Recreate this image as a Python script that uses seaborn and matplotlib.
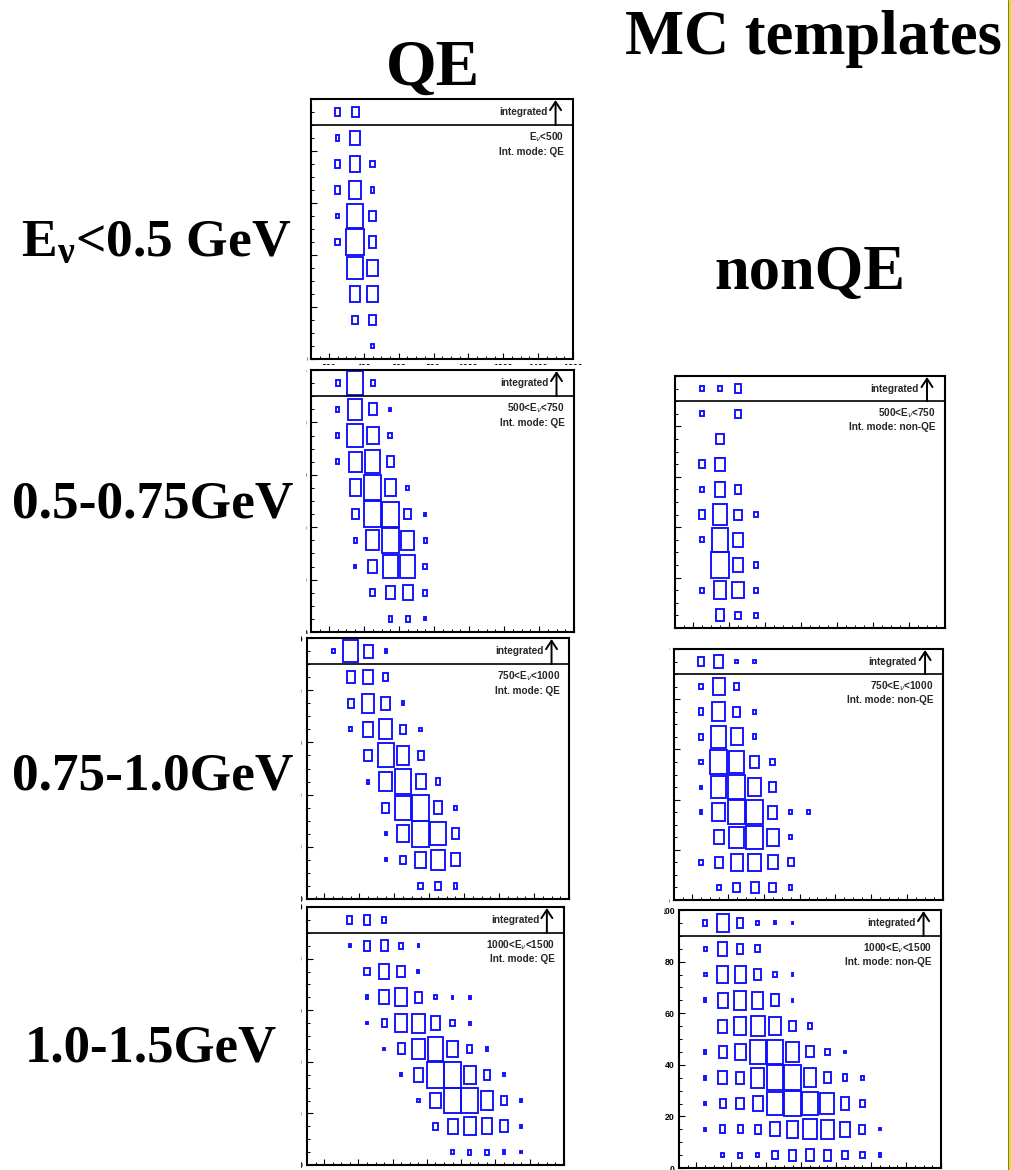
import matplotlib
matplotlib.use("Agg")
import matplotlib.pyplot as plt
import seaborn as sns
import pandas as pd
from matplotlib.patches import Rectangle
from matplotlib.lines import Line2D
from matplotlib.transforms import Bbox, TransformedBbox

# ---------------------------------------------------------------- data
# Muon momentum bins (MeV) and angle bins (deg); the strip 90-100 holds the
# angle-integrated row.
MOM_LO, MOM_HI, MOM_BIN = 100, 1600, 100
ANG_BIN = 10
ANGLE_ROWS = [85, 75, 65, 55, 45, 35, 25, 15, 5]
INTEGRATED_ROW = 95

# relative cell content (box side / cell side), one list per angle row,
# starting at the first momentum bin
qe_lt500_integrated = [0, 0.30, 0.40, 0]
qe_lt500 = [
    [0, 0.20, 0.55, 0],
    [0, 0.30, 0.62, 0.25],
    [0, 0.30, 0.66, 0.22],
    [0, 0.18, 0.92, 0.42],
    [0, 0.25, 1.00, 0.45],
    [0, 0, 0.88, 0.60],
    [0, 0, 0.60, 0.62],
    [0, 0, 0.34, 0.40],
    [0, 0, 0, 0.18],
]

qe_500_750_integrated = [0, 0.25, 0.93, 0.25]
qe_500_750 = [
    [0, 0.18, 0.80, 0.45, 0.10],
    [0, 0.18, 0.90, 0.68, 0.22],
    [0, 0.18, 0.76, 0.88, 0.42],
    [0, 0, 0.65, 0.95, 0.65, 0.15],
    [0, 0, 0.38, 1.00, 0.95, 0.38, 0.12],
    [0, 0, 0.18, 0.76, 0.95, 0.72, 0.20],
    [0, 0, 0.14, 0.50, 0.88, 0.84, 0.22],
    [0, 0, 0, 0.27, 0.50, 0.57, 0.22],
    [0, 0, 0, 0, 0.20, 0.25, 0.12],
]

qe_750_1000_integrated = [0, 0.18, 0.85, 0.50, 0.12]
qe_750_1000 = [
    [0, 0, 0.46, 0.54, 0.30],
    [0, 0, 0.34, 0.72, 0.50, 0.15],
    [0, 0, 0.15, 0.60, 0.76, 0.34, 0.14],
    [0, 0, 0, 0.42, 0.92, 0.72, 0.34],
    [0, 0, 0, 0.15, 0.72, 0.95, 0.57, 0.25],
    [0, 0, 0, 0, 0.38, 0.92, 1.00, 0.50, 0.15],
    [0, 0, 0, 0, 0.12, 0.65, 0.98, 0.88, 0.42],
    [0, 0, 0, 0, 0.12, 0.30, 0.60, 0.76, 0.50],
    [0, 0, 0, 0, 0, 0, 0.26, 0.30, 0.22],
]

qe_1000_1500_integrated = [0, 0, 0.30, 0.38, 0.22]
qe_1000_1500 = [
    [0, 0, 0.12, 0.38, 0.42, 0.22, 0.10],
    [0, 0, 0, 0.30, 0.58, 0.46, 0.12],
    [0, 0, 0, 0.15, 0.54, 0.70, 0.42, 0.16, 0.10, 0.12],
    [0, 0, 0, 0.10, 0.30, 0.70, 0.74, 0.54, 0.26, 0.12],
    [0, 0, 0, 0, 0.10, 0.42, 0.78, 0.90, 0.62, 0.30, 0.16],
    [0, 0, 0, 0, 0, 0.12, 0.54, 1.00, 1.00, 0.70, 0.38, 0.12],
    [0, 0, 0, 0, 0, 0, 0.14, 0.62, 0.97, 0.97, 0.74, 0.38, 0.12],
    [0, 0, 0, 0, 0, 0, 0, 0.26, 0.58, 0.70, 0.62, 0.46, 0.12],
    [0, 0, 0, 0, 0, 0, 0, 0, 0.18, 0.20, 0.20, 0.16, 0.08],
]

nonqe_500_750_integrated = [0, 0.22, 0.22, 0.33]
nonqe_500_750 = [
    [0, 0.20, 0, 0.33],
    [0, 0, 0.40],
    [0, 0.30, 0.52],
    [0, 0.20, 0.60, 0.37],
    [0, 0.37, 0.82, 0.40, 0.20],
    [0, 0.20, 0.93, 0.56],
    [0, 0, 1.00, 0.52, 0.20],
    [0, 0.20, 0.70, 0.63, 0.20],
    [0, 0, 0.48, 0.30, 0.20],
]

nonqe_750_1000_integrated = [0, 0.37, 0.52, 0.15, 0.14]
nonqe_750_1000 = [
    [0, 0.18, 0.67, 0.30],
    [0, 0.26, 0.74, 0.40, 0.14],
    [0, 0.26, 0.85, 0.67, 0.20],
    [0, 0.18, 0.93, 0.85, 0.48, 0.26],
    [0, 0.12, 0.85, 0.97, 0.70, 0.37],
    [0, 0.14, 0.74, 0.97, 0.97, 0.52, 0.15, 0.15],
    [0, 0, 0.56, 0.82, 0.93, 0.67, 0.14],
    [0, 0.18, 0.45, 0.67, 0.70, 0.56, 0.33],
    [0, 0, 0.20, 0.37, 0.45, 0.37, 0.20],
]

nonqe_1000_1500_integrated = [0, 0.22, 0.68, 0.38, 0.15, 0.12, 0.10]
nonqe_1000_1500 = [
    [0, 0.15, 0.53, 0.38, 0.26],
    [0, 0.15, 0.64, 0.64, 0.42, 0.22, 0.10],
    [0, 0.14, 0.57, 0.72, 0.64, 0.46, 0.10],
    [0, 0, 0.50, 0.72, 0.80, 0.68, 0.38, 0.22],
    [0, 0.14, 0.46, 0.64, 0.92, 0.92, 0.76, 0.42, 0.26, 0.10],
    [0, 0.14, 0.50, 0.46, 0.76, 0.95, 0.95, 0.72, 0.42, 0.26, 0.14],
    [0, 0.12, 0.34, 0.42, 0.57, 0.88, 1.00, 0.92, 0.80, 0.50, 0.26],
    [0, 0.10, 0.30, 0.30, 0.34, 0.53, 0.68, 0.76, 0.72, 0.60, 0.34, 0.08],
    [0, 0, 0.18, 0.20, 0.16, 0.34, 0.42, 0.46, 0.42, 0.34, 0.26, 0.15],
]

energy_labels = ["E$_{\\nu}$<500", "500<E$_{\\nu}$<750",
                 "750<E$_{\\nu}$<1000", "1000<E$_{\\nu}$<1500"]
row_titles = ["E$_{\\mathrm{ν}}$<0.5 GeV", "0.5-0.75GeV", "0.75-1.0GeV", "1.0-1.5GeV"]

# ---------------------------------------------------------------- style
sns.set_theme(style="ticks")
plt.rcParams["font.family"] = ["Liberation Sans", "DejaVu Sans"]
plt.rcParams["mathtext.fontset"] = "custom"
plt.rcParams["mathtext.rm"] = "Liberation Serif:bold"
plt.rcParams["mathtext.it"] = "Liberation Serif:italic:bold"
plt.rcParams["mathtext.bf"] = "Liberation Serif:bold"

W, H = 1012, 1170
fig = plt.figure(figsize=(W / 100, H / 100), dpi=100)
fig.patch.set_facecolor("white")
BOX_BLUE = "#0d0dff"


def fig_box(l, t, r, b):
    return [l / W, 1 - b / H, (r - l) / W, (b - t) / H]


def cells_frame(rows, integrated):
    recs = []
    for yc, row in zip(ANGLE_ROWS, rows):
        for i, v in enumerate(row):
            if v > 0:
                recs.append((MOM_LO + (i + 0.5) * MOM_BIN, yc, v))
    for i, v in enumerate(integrated):
        if v > 0:
            recs.append((MOM_LO + (i + 0.5) * MOM_BIN, INTEGRATED_ROW, v))
    return pd.DataFrame(recs, columns=["momentum", "angle", "content"])


def panel(axes_px, card_px, z, rows, integrated, elabel, mode):
    card = fig_box(*card_px)
    fig.add_artist(Rectangle((card[0], card[1]), card[2], card[3],
                             transform=fig.transFigure, facecolor="white",
                             edgecolor="none", zorder=z))
    ax = fig.add_axes(fig_box(*axes_px))
    ax.set_zorder(z + 0.5)
    ax.set_facecolor("white")
    ax.set_xlim(MOM_LO, MOM_HI)
    ax.set_ylim(0, 100)
    ax.set_xticks(range(200, MOM_HI + 1, 200))
    ax.set_xticks(range(MOM_LO, MOM_HI + 1, 50), minor=True)
    ax.set_yticks(range(0, 101, 20))
    ax.set_yticks(range(0, 101, 5), minor=True)
    ax.tick_params(which="both", direction="in", top=False, right=False,
                   labelsize=6.3, pad=3, colors="black")
    ax.tick_params(which="major", length=4, width=0.8)
    ax.tick_params(which="minor", length=2.2, width=0.7)
    for s in ax.spines.values():
        s.set_linewidth(1.5)
        s.set_color("black")
    clip = TransformedBbox(Bbox.from_bounds(*card), fig.transFigure)
    for lab in ax.get_xticklabels() + ax.get_yticklabels():
        lab.set_fontweight("bold")
        lab.set_clip_box(clip)
        lab.set_clip_on(True)

    ax.axhline(90, color="black", lw=1.2)
    df = cells_frame(rows, integrated)
    for x, y, v in df.itertuples(index=False):
        w, h = v * MOM_BIN, v * ANG_BIN
        ax.add_patch(Rectangle((x - w / 2, y - h / 2), w, h, fill=False,
                               edgecolor=BOX_BLUE, lw=1.35))

    ax.text(1455, 95, "integrated", ha="right", va="center",
            fontsize=7.2, fontweight="bold")
    ax.annotate("", xy=(1500, 99.6), xytext=(1500, 90),
                arrowprops=dict(arrowstyle="->,head_length=0.5,head_width=0.33",
                                lw=1.4, color="black", shrinkA=0, shrinkB=0))
    ax.text(1548, 85.3, elabel, ha="right", va="center", fontsize=7.2,
            fontweight="bold", math_fontfamily="dejavusans")
    ax.text(1548, 79.8, "Int. mode: " + mode, ha="right", va="center",
            fontsize=7.2, fontweight="bold")
    return ax


# QE column
panel((311.5, 99, 573, 359), (307, 91, 584, 366), 1,
      qe_lt500, qe_lt500_integrated, energy_labels[0], "QE")
panel((311.5, 370, 574, 632), (306, 365, 584, 634), 2,
      qe_500_750, qe_500_750_integrated, energy_labels[1], "QE")
panel((307, 638, 569, 899), (301, 634, 584, 904), 3,
      qe_750_1000, qe_750_1000_integrated, energy_labels[2], "QE")
panel((307, 907, 564, 1165), (301, 904, 584, 1170), 4,
      qe_1000_1500, qe_1000_1500_integrated, energy_labels[3], "QE")

# nonQE column
panel((675, 376, 945, 628), (671, 370, 952, 631), 1,
      nonqe_500_750, nonqe_500_750_integrated, energy_labels[1], "non-QE")
panel((674, 649, 943, 900), (669, 631, 952, 904), 2,
      nonqe_750_1000, nonqe_750_1000_integrated, energy_labels[2], "non-QE")
panel((679, 910, 941, 1168), (663.5, 904, 952, 1170), 3,
      nonqe_1000_1500, nonqe_1000_1500_integrated, energy_labels[3], "non-QE")

# headings and row titles
serif = dict(family="Liberation Serif", fontweight="bold", color="black", zorder=20)


def ftext(x, y, s, size, ha="left"):
    fig.text(x / W, 1 - y / H, s, fontsize=size, ha=ha, va="baseline", **serif)


ftext(433, 85, "QE", 47, ha="center")
ftext(625, 54, "MC templates", 45)
ftext(714, 289, "nonQE", 45)
ftext(21, 256, row_titles[0], 38.5)
ftext(12, 518, row_titles[1], 38.3)
ftext(12, 789, row_titles[2], 38.3)
ftext(25, 1062, row_titles[3], 38)

# slide border on the right
fig.add_artist(Line2D([1008.3 / W] * 2, [0, 1], transform=fig.transFigure,
                      color="#555555", lw=0.6, zorder=30))
fig.add_artist(Line2D([1010.5 / W] * 2, [0, 1], transform=fig.transFigure,
                      color="#e4e400", lw=1.5, zorder=30))

fig.savefig("out.png", dpi=100, facecolor="white")
